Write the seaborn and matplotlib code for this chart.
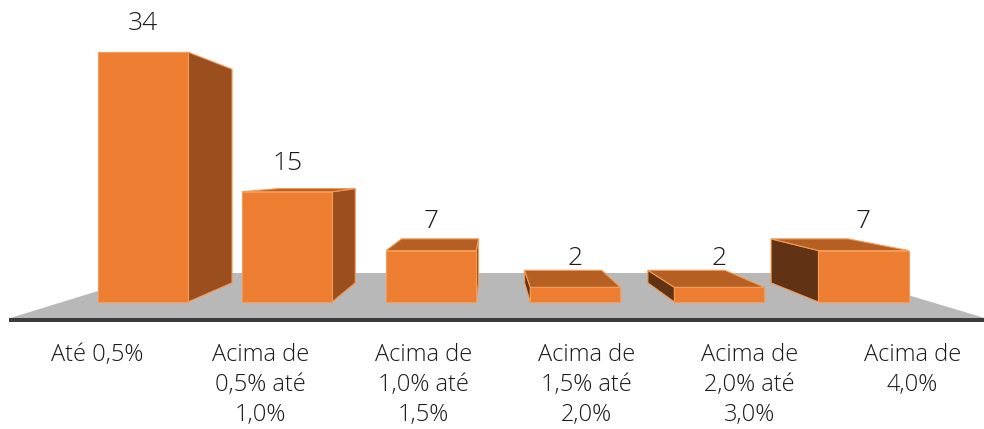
import matplotlib
matplotlib.use("Agg")
import matplotlib.pyplot as plt
from matplotlib.patches import Polygon
import pandas as pd
import seaborn as sns

categories = ["Até 0,5%", "Acima de\n0,5% até\n1,0%", "Acima de\n1,0% até\n1,5%",
              "Acima de\n1,5% até\n2,0%", "Acima de\n2,0% até\n3,0%", "Acima de\n4,0%"]
counts = [34, 15, 7, 2, 2, 7]

# fake 3D: everything is projected toward a vanishing point (data units)
BAR_W = 0.625
VP = (2.42, 17.96)
D_BACK = 0.145
D_FLOOR_FRONT = -0.125
D_FLOOR_BACK = 0.22
D_LABEL = -0.131
FLOOR_X = (-0.56, 5.47)

FRONT = "#ED7D31"
EDGE = "#F39A55"
TOP = "#B65F22"
RSIDE = "#9B4F1E"
LSIDE = "#613214"


def proj(x, y, d):
    return (x + d * (VP[0] - x), y + d * (VP[1] - y))


df = pd.DataFrame({"cat": categories, "n": counts})

sns.set_theme(style="white")
plt.rcParams["font.family"] = ["Open Sans", "DejaVu Sans"]

fig = plt.figure(figsize=(9.84, 4.29), dpi=100)
ax = fig.add_axes([0, 0, 1, 1])

# floor
fl = [proj(FLOOR_X[0], 0, D_FLOOR_FRONT), proj(FLOOR_X[1], 0, D_FLOOR_FRONT),
      proj(FLOOR_X[1], 0, D_FLOOR_BACK), proj(FLOOR_X[0], 0, D_FLOOR_BACK)]
ax.add_patch(Polygon(fl, closed=True, facecolor="#B8B8B8", edgecolor="none", zorder=0.5))
edge = [proj(FLOOR_X[0], 0, D_FLOOR_FRONT), proj(FLOOR_X[1], 0, D_FLOOR_FRONT),
        proj(FLOOR_X[1], -0.4, D_FLOOR_FRONT), proj(FLOOR_X[0], -0.4, D_FLOOR_FRONT)]
ax.add_patch(Polygon(edge, closed=True, facecolor="#3C3C3C", edgecolor="none", zorder=0.6))

# side and top faces
for i, v in enumerate(counts):
    xl, xr = i - BAR_W / 2, i + BAR_W / 2
    if xr < VP[0]:
        side = [(xr, 0), (xr, v), proj(xr, v, D_BACK), proj(xr, 0, D_BACK)]
        ax.add_patch(Polygon(side, closed=True, facecolor=RSIDE, edgecolor=EDGE,
                             lw=0.8, zorder=2))
    if xl > VP[0]:
        side = [(xl, 0), (xl, v), proj(xl, v, D_BACK), proj(xl, 0, D_BACK)]
        ax.add_patch(Polygon(side, closed=True, facecolor=LSIDE, edgecolor=EDGE,
                             lw=0.8, zorder=2))
    if v < VP[1]:
        top = [(xl, v), (xr, v), proj(xr, v, D_BACK), proj(xl, v, D_BACK)]
        ax.add_patch(Polygon(top, closed=True, facecolor=TOP, edgecolor=EDGE,
                             lw=0.8, zorder=2))

# front faces
sns.barplot(data=df, x="cat", y="n", color=FRONT, saturation=1, width=BAR_W,
            edgecolor=EDGE, linewidth=0.8, zorder=3, ax=ax)

for i, v in enumerate(counts):
    ax.text(i, v + 3.9, str(v), ha="center", va="center", fontsize=19,
            color="#1A1A1A", fontweight="light")
    lx = proj(i, 0, D_LABEL)[0]
    ax.text(lx, -5.6, categories[i], ha="center", va="top", fontsize=17,
            color="#1A1A1A", linespacing=1.33, fontweight="light")

ax.set_xlim(-0.992, 5.836)
ax.set_ylim(-17.28, 41.09)
ax.axis("off")

fig.savefig("out.png", dpi=100, facecolor="white")
